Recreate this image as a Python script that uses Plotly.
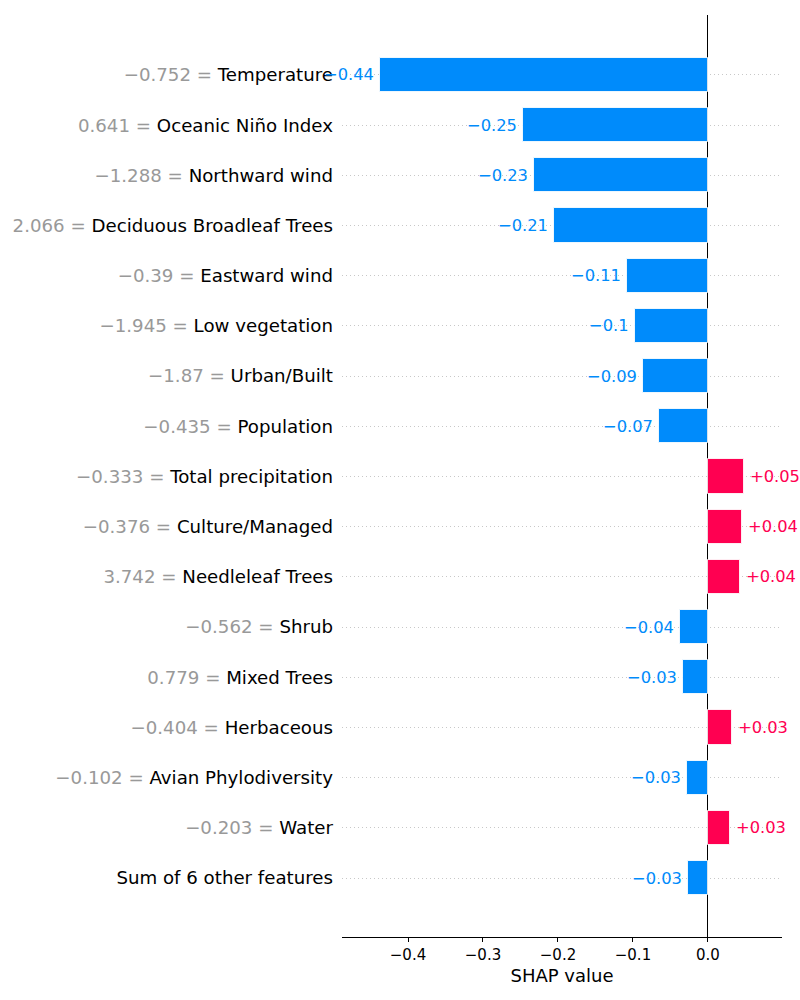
import plotly.graph_objects as go

features = ["Temperature", "Oceanic Niño Index", "Northward wind", "Deciduous Broadleaf Trees",
            "Eastward wind", "Low vegetation", "Urban/Built", "Population", "Total precipitation",
            "Culture/Managed", "Needleleaf Trees", "Shrub", "Mixed Trees", "Herbaceous",
            "Avian Phylodiversity", "Water", "Sum of 6 other features"]
feature_values = ["−0.752", "0.641", "−1.288", "2.066", "−0.39", "−1.945", "−1.87", "−0.435",
                  "−0.333", "−0.376", "3.742", "−0.562", "0.779", "−0.404", "−0.102", "−0.203", ""]
shap_values = [-0.437, -0.246, -0.232, -0.205, -0.108, -0.097, -0.087, -0.065,
               0.048, 0.045, 0.043, -0.037, -0.033, 0.032, -0.028, 0.029, -0.027]
value_labels = ["−0.44", "−0.25", "−0.23", "−0.21", "−0.11", "−0.1", "−0.09", "−0.07",
                "+0.05", "+0.04", "+0.04", "−0.04", "−0.03", "+0.03", "−0.03", "+0.03", "−0.03"]
x_ticks = [-0.4, -0.3, -0.2, -0.1, 0.0]
x_tick_labels = ["−0.4", "−0.3", "−0.2", "−0.1", "0.0"]

BLUE = "#008bfb"
RED = "#ff0051"
FONT = "DejaVu Sans"

idx = list(range(len(features)))
colors = [RED if v > 0 else BLUE for v in shap_values]

ticktext = []
for fv, name in zip(feature_values, features):
    if fv:
        ticktext.append(f"<span style='color:#999999'>{fv} = </span>{name}")
    else:
        ticktext.append(name)

fig = go.Figure()
fig.add_trace(go.Bar(
    x=shap_values, y=idx, orientation="h", width=0.68,
    marker=dict(color=colors, line=dict(color="rgba(255,255,255,0.85)", width=1)),
    hoverinfo="skip", showlegend=False,
))

for i, (v, lab, c) in enumerate(zip(shap_values, value_labels, colors)):
    fig.add_annotation(
        x=v, y=i, text=lab, showarrow=False,
        xanchor="right" if v < 0 else "left",
        xshift=-4 if v < 0 else 4,
        font=dict(family=FONT, size=16.3, color=c),
    )

fig.update_layout(
    width=800, height=1000,
    margin=dict(l=342, r=18, t=15, b=63),
    plot_bgcolor="white", paper_bgcolor="white",
    font=dict(family=FONT, color="black"),
    bargap=0,
)
fig.update_xaxes(
    range=[-0.488, 0.0987],
    tickvals=x_ticks, ticktext=x_tick_labels,
    ticks="outside", ticklen=4, tickcolor="black", tickwidth=1,
    tickfont=dict(family=FONT, size=15, color="black"),
    showline=True, linecolor="black", linewidth=1,
    showgrid=False,
    zeroline=True, zerolinecolor="black", zerolinewidth=1,
    title=dict(text="SHAP value", font=dict(family=FONT, size=18, color="black"), standoff=6),
)
fig.update_yaxes(
    range=[len(features) - 1 + 1.175, -1.195],
    tickvals=idx, ticktext=ticktext,
    tickfont=dict(family=FONT, size=18.2, color="black"),
    ticks="", showline=False, zeroline=False,
    showgrid=True, gridcolor="#c8c8c8", gridwidth=1, griddash="1px,3px",
    ticklabelstandoff=8,
)

fig.write_html("out.html", config={"displayModeBar": False},
               post_script="document.body.style.margin='0';document.body.style.overflow='hidden';")
